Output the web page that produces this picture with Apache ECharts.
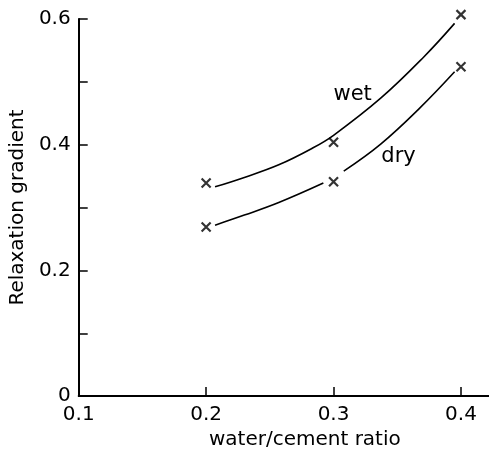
<!DOCTYPE html>
<html>
<head>
<meta charset="utf-8">
<script src="https://cdn.jsdelivr.net/npm/echarts@6/dist/echarts.min.js"></script>
<style>
  html, body { margin: 0; padding: 0; background: #fff; }
  #chart { width: 489px; height: 455px; }
</style>
</head>
<body>
<div id="chart"></div>
<script>
// measured points (x markers)
var ratios = [0.2, 0.3, 0.4];
var wetPoints = [0.339, 0.404, 0.607];
var dryPoints = [0.269, 0.341, 0.524];

// fitted curves
var wetCurveX = [0.207, 0.230, 0.257, 0.283, 0.300, 0.337, 0.371, 0.395];
var wetCurveY = [0.333, 0.348, 0.368, 0.394, 0.415, 0.474, 0.540, 0.593];
var dryCurveX = [0.207, 0.230, 0.257, 0.292, 0.300, 0.308, 0.337, 0.368, 0.395];
var dryCurveY = [0.272, 0.288, 0.308, 0.339, '-', 0.358, 0.401, 0.459, 0.516];

// curve labels
var curveNames = ['wet', 'dry'];
var curveNamePos = [[0.315, 0.48], [0.351, 0.381]];

var xTicks = [0.1, 0.2, 0.3, 0.4];
var yTicks = [0, 0.1, 0.2, 0.3, 0.4, 0.5, 0.6];
var yLabels = [0, 0.2, 0.4, 0.6];

var ink = '#000';
var font = 'DejaVu Sans';

function zip(xs, ys) {
  var out = [];
  for (var i = 0; i < xs.length; i++) out.push([xs[i], ys[i]]);
  return out;
}

var cross = 'path://M0 0L10 10M10 0L0 10';

var chart = echarts.init(document.getElementById('chart'));
chart.setOption({
  animation: false,
  backgroundColor: '#fff',
  textStyle: { fontFamily: font, color: ink },
  grid: { left: 76, right: 0, top: 19, bottom: 50 },
  xAxis: {
    type: 'value',
    min: 0.1,
    max: 0.422,
    name: 'water/cement ratio',
    nameLocation: 'middle',
    nameGap: 30,
    nameTextStyle: { fontFamily: font, fontSize: 20, color: ink, padding: [0, 0, 0, 42] },
    axisLine: { show: true, lineStyle: { color: ink, width: 2 } },
    axisTick: { show: true, inside: true, length: 9, customValues: xTicks, lineStyle: { color: ink, width: 1.5 } },
    axisLabel: {
      customValues: xTicks,
      fontFamily: font, fontSize: 20, color: ink, margin: 9,
      formatter: function (v) { return v.toFixed(1); }
    },
    splitLine: { show: false }
  },
  yAxis: {
    type: 'value',
    min: 0,
    max: 0.6,
    name: 'Relaxation gradient',
    nameLocation: 'middle',
    nameGap: 46,
    nameTextStyle: { fontFamily: font, fontSize: 20, color: ink },
    axisLine: { show: true, lineStyle: { color: ink, width: 2 } },
    axisTick: { show: true, inside: true, length: 9, customValues: yTicks, lineStyle: { color: ink, width: 1.5 } },
    axisLabel: {
      customValues: yLabels,
      fontFamily: font, fontSize: 20, color: ink, margin: 8,
      formatter: function (v) { return v === 0 ? '0' : v.toFixed(1); }
    },
    splitLine: { show: false }
  },
  series: [
    {
      name: 'wet curve', type: 'line', smooth: 0.4, showSymbol: false, symbol: 'none',
      data: zip(wetCurveX, wetCurveY),
      lineStyle: { color: ink, width: 1.6 }
    },
    {
      name: 'dry curve', type: 'line', smooth: 0.4, showSymbol: false, symbol: 'none',
      connectNulls: false,
      data: zip(dryCurveX, dryCurveY),
      lineStyle: { color: ink, width: 1.6 }
    },
    {
      name: 'wet', type: 'scatter', symbol: cross, symbolSize: 9, clip: false,
      data: zip(ratios, wetPoints),
      itemStyle: { color: 'transparent', borderColor: ink, borderWidth: 2.2 }
    },
    {
      name: 'dry', type: 'scatter', symbol: cross, symbolSize: 9, clip: false,
      data: zip(ratios, dryPoints),
      itemStyle: { color: 'transparent', borderColor: ink, borderWidth: 2.2 }
    },
    {
      name: 'labels', type: 'scatter', symbol: 'circle', symbolSize: 0, silent: true, clip: false,
      itemStyle: { color: '#fff', opacity: 1 },
      data: curveNamePos.map(function (p, i) { return { value: p, name: curveNames[i] }; }),
      label: {
        show: true, position: 'inside', formatter: '{b}',
        fontFamily: font, fontSize: 21, color: '#000', opacity: 1
      }
    }
  ]
});
</script>
</body>
</html>
